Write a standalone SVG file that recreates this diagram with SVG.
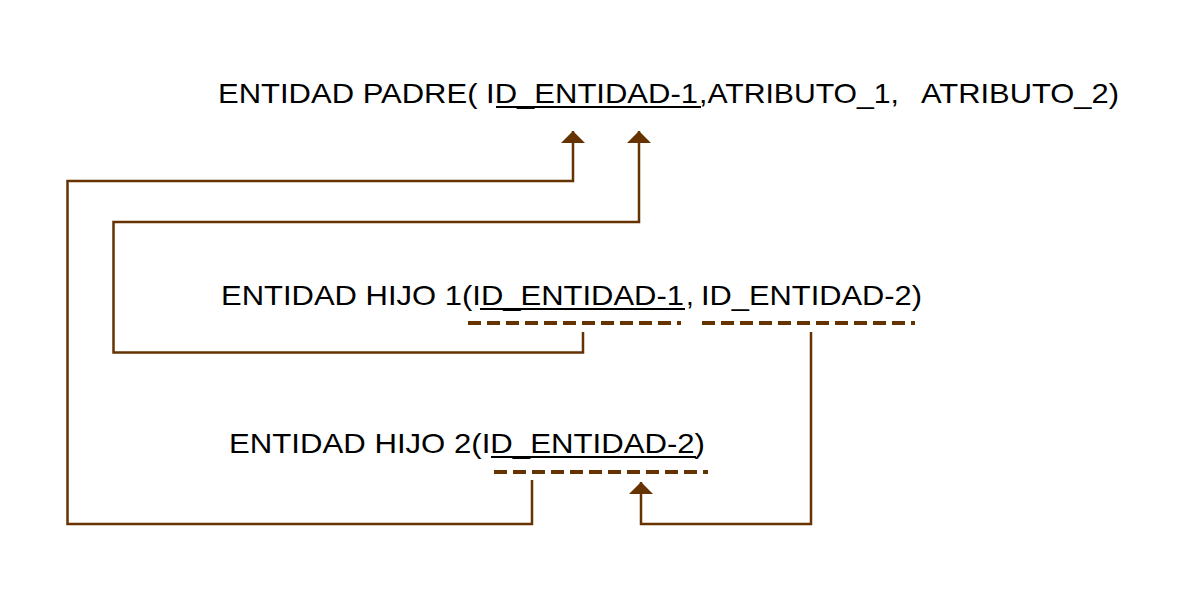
<svg xmlns="http://www.w3.org/2000/svg" width="1186" height="613" viewBox="0 0 1186 613">
<defs>
<style>
.t{font-family:"Liberation Sans",Arial,sans-serif;font-size:28px;fill:#000}
.ul{stroke:#000;stroke-width:2;fill:none}
.dash{stroke:#663300;stroke-width:4;stroke-dasharray:13 6;fill:none}
.c{stroke:#663300;stroke-width:2.5;fill:none}
</style>
<marker id="ah" viewBox="0 0 24 12" refX="12" refY="0" markerWidth="24" markerHeight="12" markerUnits="userSpaceOnUse" orient="0">
<path d="M0,12 L12,0 L24,12 Z" fill="#663300"/>
</marker>
</defs>
<rect width="1186" height="613" fill="#fff"/>
<g id="padre">
<text class="t" y="103"><tspan x="218" textLength="480" lengthAdjust="spacingAndGlyphs">ENTIDAD PADRE( ID_ENTIDAD-1</tspan><tspan x="699" textLength="200" lengthAdjust="spacingAndGlyphs">,ATRIBUTO_1,</tspan><tspan x="921" textLength="198" lengthAdjust="spacingAndGlyphs">ATRIBUTO_2)</tspan></text>
<line class="ul" x1="496" y1="107" x2="701" y2="107"/>
</g>
<g id="hijo1">
<text class="t" y="305"><tspan x="221" textLength="463" lengthAdjust="spacingAndGlyphs">ENTIDAD HIJO 1(ID_ENTIDAD-1</tspan><tspan x="686">,</tspan><tspan x="701" textLength="221" lengthAdjust="spacingAndGlyphs">ID_ENTIDAD-2)</tspan></text>
<line class="ul" x1="480" y1="309" x2="685" y2="309"/>
<line class="dash" x1="468" y1="323" x2="681" y2="323"/>
<line class="dash" x1="702" y1="323" x2="915" y2="323"/>
</g>
<g id="hijo2">
<text class="t" x="229" y="453" textLength="476" lengthAdjust="spacingAndGlyphs">ENTIDAD HIJO 2(ID_ENTIDAD-2)</text>
<line class="ul" x1="491" y1="457" x2="696" y2="457"/>
<line class="dash" x1="494" y1="472" x2="708" y2="472"/>
</g>
<g id="connectors">
<polyline class="c" points="532,480 532,524 67.5,524 67.5,181 573,181 573,131" marker-end="url(#ah)"/>
<polyline class="c" points="583,332 583,352.5 113.5,352.5 113.5,222 639,222 639,131" marker-end="url(#ah)"/>
<polyline class="c" points="811,332 811,524 641,524 641,482" marker-end="url(#ah)"/>
</g>
</svg>
